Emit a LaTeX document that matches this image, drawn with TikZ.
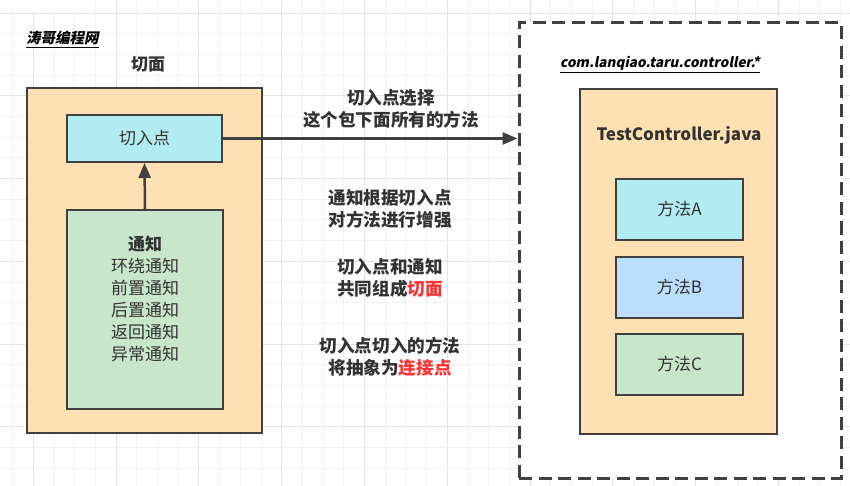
\documentclass[tikz,border=0pt]{standalone}
\usepackage{fontspec}
\setmainfont{Noto Sans CJK SC}
\newfontfamily\slantfont[FakeSlant=0.2]{Noto Sans CJK SC}
\usetikzlibrary{arrows.meta}
\definecolor{bd}{HTML}{404040}
\definecolor{txt}{HTML}{333333}
\definecolor{orangefill}{HTML}{FFE0B2}
\definecolor{cyanfill}{HTML}{B2EBF2}
\definecolor{bluefill}{HTML}{BBDEFB}
\definecolor{greenfill}{HTML}{C8E6C9}
\definecolor{redtxt}{HTML}{FF3333}
\definecolor{gridminor}{HTML}{EFEFEF}
\definecolor{gridmajor}{HTML}{E4E4E4}
\tikzset{
  box/.style={draw=bd, line width=2pt, rectangle, inner sep=0pt, text=txt},
  plain/.style={font=\fontsize{17}{22}\selectfont, text=txt, align=center, inner sep=0pt},
  bold/.style={font=\fontsize{17}{22}\selectfont\bfseries, text=txt, align=center, inner sep=0pt},
  note/.style={font=\fontsize{17.6}{22}\selectfont\bfseries, text=txt, align=center, inner sep=0pt},
  conn/.style={draw=bd, line width=2.5pt, -{Triangle[length=15pt,width=12pt]}},
}
\begin{document}
\begin{tikzpicture}[x=1pt,y=-1pt]
\useasboundingbox (0,0) rectangle (850,486);
\fill[white] (0,0) rectangle (850,486);
% grid
\foreach \k in {0,...,41} {
  \pgfmathtruncatemacro{\m}{mod(\k,4)}
  \ifnum\m=1 \draw[gridmajor,line width=1pt] (12.6+20.7*\k,0) -- (12.6+20.7*\k,486);
  \else \draw[gridminor,line width=1pt] (12.6+20.7*\k,0) -- (12.6+20.7*\k,486); \fi
}
\foreach \k in {0,...,23} {
  \pgfmathtruncatemacro{\m}{mod(\k,4)}
  \ifnum\m=0 \draw[gridmajor,line width=1pt] (0,13.3+20.67*\k) -- (850,13.3+20.67*\k);
  \else \draw[gridminor,line width=1pt] (0,13.3+20.67*\k) -- (850,13.3+20.67*\k); \fi
}
\fill[white] (0,0) rectangle (91,12.5);

% title
\node[anchor=west, inner sep=0pt, font=\slantfont\bfseries\fontsize{14.5}{16}\selectfont, text=black] (site) at (26,38) {涛哥编程网};
\draw[black, line width=1.2pt] (site.south west) ++(0,2.5) coordinate (ul1) -- (site.south east |- ul1);

% left aspect
\node[font=\fontsize{17}{20}\selectfont\bfseries, text=txt, inner sep=0pt] (aspecttitle) at (148,64) {切面};
\node[box, fill=orangefill, minimum width=235pt, minimum height=345pt] (aspect) at (144.5,260.5) {};
\node[box, fill=cyanfill, minimum width=155pt, minimum height=47pt, font=\fontsize{17}{20}\selectfont] (pc) at (144.5,138.5) {切入点};
\node[box, fill=greenfill, minimum width=156pt, minimum height=199pt] (advice) at (145,309.5) {};
\node[plain, anchor=north] (advtext) at (145,236) {\textbf{通知}\\环绕通知\\前置通知\\后置通知\\返回通知\\异常通知};
\draw[conn] (advice.north) -- (pc.south);

% package box
\node[draw=bd, line width=3pt, dash pattern=on 13pt off 6.5pt, fill=white, rectangle, minimum width=322pt, minimum height=455pt, inner sep=0pt] (pkg) at (680,250.5) {};
\node[anchor=center, inner sep=0pt, font=\slantfont\bfseries\fontsize{13.6}{16}\selectfont, text=black] (pkgname) at (660,63) {com.lanqiao.taru.controller.*};
\draw[black, line width=1.2pt] (pkgname.south west) ++(0,2.5) coordinate (ul2) -- (pkgname.south east |- ul2);

\node[box, fill=orangefill, minimum width=197pt, minimum height=345pt] (cls) at (678.5,261.5) {};
\node[bold] (clsname) at (679,135) {TestController.java};
\node[box, fill=cyanfill, minimum width=127pt, minimum height=61pt, font=\fontsize{17}{20}\selectfont] (ma) at (679.5,209.5) {方法A};
\node[box, fill=bluefill, minimum width=127pt, minimum height=61pt, font=\fontsize{17}{20}\selectfont] (mb) at (679.5,287.5) {方法B};
\node[box, fill=greenfill, minimum width=127pt, minimum height=61pt, font=\fontsize{17}{20}\selectfont] (mc) at (679.5,364.5) {方法C};

\draw[conn] (pc.east) -- (pc.east -| pkg.west);

% middle notes
\node[note] (n1) at (391,109) {切入点选择\\这个包下面所有的方法};
\node[note] (n2) at (390,209) {通知根据切入点\\对方法进行增强};
\node[note] (n3) at (390,278) {切入点和通知\\共同组成\textcolor{redtxt}{切面}};
\node[note] (n4) at (390,357) {切入点切入的方法\\将抽象为\textcolor{redtxt}{连接点}};
\end{tikzpicture}
\end{document}
